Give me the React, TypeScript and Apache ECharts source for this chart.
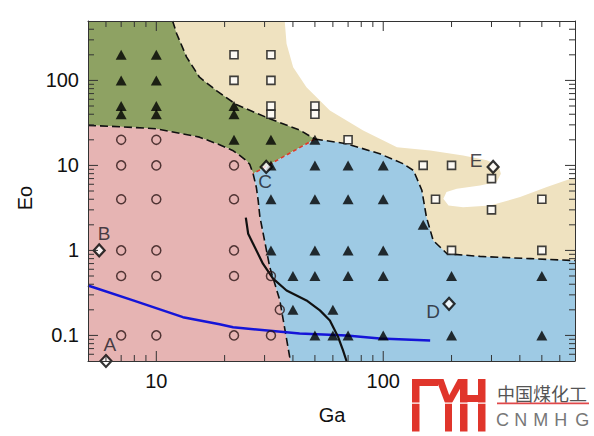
import React, { useEffect, useRef } from 'react';
import * as echarts from 'echarts';

// Axis ranges and tick values
const X_MIN = 5, X_MAX = 700, Y_MIN = 0.05, Y_MAX = 500;
const xTickLabels = [10, 100];
const yTickLabels = [0.1, 1, 10, 100];
const xMinorTicks = [6, 7, 8, 9, 20, 30, 40, 50, 60, 70, 80, 90, 200, 300, 400, 500, 600];
const yMinorTicks = [0.06, 0.07, 0.08, 0.09, 0.2, 0.3, 0.4, 0.5, 0.6, 0.7, 0.8, 0.9, 2, 3, 4, 5, 6, 7, 8, 9, 20, 30, 40, 50, 60, 70, 80, 90, 200, 300, 400];

// Markers
const triangles = [[7, 200], [7, 100], [7, 50], [7, 40], [10, 200], [10, 100], [10, 50], [10, 40], [22, 50], [22, 40], [22, 20], [32, 20], [32, 10], [32, 4], [32, 1], [40, 0.5], [40, 0.2], [50, 20], [50, 10], [50, 4], [50, 1], [50, 0.5], [50, 0.1], [60, 0.2], [60, 0.1], [70, 10], [70, 4], [70, 1], [70, 0.5], [70, 0.1], [100, 10], [100, 4], [100, 1], [100, 0.5], [100, 0.1], [150, 2], [200, 0.5], [200, 0.1], [500, 0.5], [500, 0.1]];
const circles = [[7, 20], [7, 10], [7, 4], [7, 1], [7, 0.5], [7, 0.1], [10, 20], [10, 10], [10, 4], [10, 1], [10, 0.5], [10, 0.1], [22, 10], [22, 4], [22, 1], [22, 0.5], [22, 0.1], [32, 0.5], [32, 0.1], [35, 0.2]];
const squares = [[22, 200], [22, 100], [32, 200], [32, 100], [32, 50], [32, 40], [50, 50], [50, 40], [70, 20], [150, 10], [170, 4], [200, 10], [200, 1], [300, 7], [300, 3], [500, 4], [500, 1]];
const diamondNames = ['A', 'B', 'C', 'D', 'E'];
const diamondValues = [[6, 0.05], [5.6, 1], [30.5, 9.6], [195, 0.235], [305, 9.6]];

// Curves
const blueLine = [[5, 0.387], [7.9, 0.258], [13.1, 0.164], [19, 0.135], [21.8, 0.125], [42.8, 0.105], [68.9, 0.1], [96.6, 0.092], [161, 0.087]];
const blackCurve = [[24.8, 2.43], [25.4, 1.57], [26.7, 1.2], [29.5, 0.698], [32.7, 0.465], [37.5, 0.338], [45.9, 0.258], [52.6, 0.197], [58.2, 0.15], [63.3, 0.0955], [66.5, 0.0667], [68.9, 0.05]];

// Region boundaries
const pinkBoundary = [[5, 29.6], [6.9, 28.5], [10, 27], [15.5, 21.5], [19, 17.5], [21.7, 15], [23.3, 13.1], [24.8, 11.5], [25.8, 10.3], [26.7, 8], [27.6, 5.5], [28.1, 3.9], [28.6, 2.5], [31.6, 0.64], [35, 0.26], [38.7, 0.056], [39.1, 0.05]];
const greenUpper = [[11.8, 500], [12.3, 354], [13.6, 188], [15.5, 109], [18.4, 76], [22.5, 52], [31.6, 35.4], [42.9, 26], [50, 20.4]];
const blueUpper = [[50, 20.4], [68.9, 18], [96.6, 13.7], [122, 10.5], [136, 8.7], [148, 5.1], [155, 2.47], [166, 1.31], [191, 0.914], [267, 0.85], [444, 0.8], [700, 0.76]];
const redBoundary = [[50, 20.4], [26.7, 8]];
const whiteEdge = [[36.8, 500], [37.5, 270], [40.1, 143], [45.9, 83], [58.2, 44.4], [81.6, 25.8], [115, 16.4], [161, 15], [225, 13.1], [286, 11.5], [322, 10], [330, 8], [316, 6.4], [267, 5.8], [211, 5.3], [190, 4.86], [184, 4.06], [194, 3.38], [225, 3.23], [296, 3.38], [401, 4.24], [526, 5.56], [700, 7.28]];

const FONT = 'Liberation Sans, Arial, Helvetica, sans-serif';

const pinkIdx = pinkBoundary.findIndex((p) => p[0] === 26.7 && p[1] === 8);

const pinkPoly = [[X_MIN, Y_MIN], ...pinkBoundary];
const greenPoly = [[X_MIN, Y_MAX], ...greenUpper, [26.7, 8], ...pinkBoundary.slice(0, pinkIdx).reverse()];
const bluePoly = [...pinkBoundary.slice(pinkIdx), [X_MAX, Y_MIN], ...blueUpper.slice().reverse()];
const beigePoly = [...whiteEdge, ...blueUpper.slice().reverse(), ...greenUpper.slice(0, -1).reverse()];

function polygonSeries(points: number[][], color: string) {
  return {
    type: 'custom',
    coordinateSystem: 'cartesian2d',
    silent: true,
    z: 1,
    data: [points[0]],
    renderItem: (_p: any, api: any) => ({
      type: 'polygon',
      shape: { points: points.map((p) => api.coord(p)) },
      style: { fill: color },
    }),
  };
}

function lineSeries(points: number[][], color: string, width: number, dash: any) {
  return {
    type: 'line',
    data: points,
    symbol: 'none',
    silent: true,
    z: 3,
    lineStyle: { color, width, type: dash },
  };
}

function findLabel(v: number, list: number[]) {
  const t = list.find((l) => Math.abs(v - l) / l < 1e-6);
  return t === undefined ? '' : String(t);
}

export default function App() {
  const ref = useRef<HTMLDivElement>(null);
  useEffect(() => {
    if (!ref.current) return;
    const chart = echarts.init(ref.current, undefined, { renderer: 'svg' });
    const xTicks = [...xTickLabels.map((v) => [v, Y_MIN, 1]), ...xMinorTicks.map((v) => [v, Y_MIN, 0])];
    const yTicks = [...yTickLabels.map((v) => [X_MIN, v, 1]), ...yMinorTicks.map((v) => [X_MIN, v, 0])];
    const tickStyle = { stroke: '#333', lineWidth: 1 };
    const axisCommon = {
      type: 'log',
      logBase: 10,
      axisTick: { show: false },
      splitLine: { show: false },
      axisLine: { show: true, onZero: false, lineStyle: { color: '#333', width: 1 } },
      z: 6,
    };
    // label anchor relative to the diamond's bounding box (11 x 12)
    const labelOffsets: any = { A: [5, -15], B: [6, -16], C: [0, 16], D: [-15, 9], E: [-16, -5] };
    const option: any = {
      animation: false,
      backgroundColor: '#fff',
      grid: { left: 88, top: 21, right: 19, bottom: 75 },
      xAxis: [
        {
          ...axisCommon, min: X_MIN, max: X_MAX, position: 'bottom',
          axisLabel: { formatter: (v: number) => findLabel(v, xTickLabels), fontSize: 20, color: '#111', margin: 10, fontFamily: FONT },
        },
        { ...axisCommon, min: X_MIN, max: X_MAX, position: 'top', axisLabel: { show: false } },
      ],
      yAxis: [
        {
          ...axisCommon, min: Y_MIN, max: Y_MAX, position: 'left',
          axisLabel: { formatter: (v: number) => findLabel(v, yTickLabels), fontSize: 20, color: '#111', margin: 9, fontFamily: FONT },
        },
        { ...axisCommon, min: Y_MIN, max: Y_MAX, position: 'right', axisLabel: { show: false } },
      ],
      series: [
        polygonSeries(beigePoly, '#efe2c0'),
        polygonSeries(greenPoly, '#8ea263'),
        polygonSeries(pinkPoly, '#e6b4b3'),
        polygonSeries(bluePoly, '#9ecae4'),
        lineSeries(pinkBoundary, '#111', 1.6, [8, 4]),
        lineSeries(greenUpper, '#111', 1.6, [8, 4]),
        lineSeries(blueUpper, '#111', 1.6, [8, 4]),
        lineSeries(redBoundary, '#e03a2a', 1.6, [4, 3]),
        lineSeries(blueLine, '#1515d8', 2.5, 'solid'),
        lineSeries(blackCurve, '#111', 2.2, 'solid'),
        {
          type: 'scatter', data: triangles, symbol: 'triangle', symbolSize: [11, 10], z: 4, silent: true,
          itemStyle: { color: '#000' },
        },
        {
          type: 'scatter', data: circles, symbol: 'circle', symbolSize: 9, z: 4, silent: true,
          itemStyle: { color: 'rgba(0,0,0,0)', borderColor: '#2a1414', borderWidth: 1.5 },
        },
        {
          type: 'scatter', data: squares, symbol: 'rect', symbolSize: 8, z: 4, silent: true,
          itemStyle: { color: '#fff', borderColor: '#111', borderWidth: 1.6 },
        },
        {
          type: 'scatter', symbol: 'diamond', symbolSize: [11, 12], z: 5, silent: true, clip: false,
          itemStyle: { color: '#fff', borderColor: '#000', borderWidth: 2.2 },
          data: diamondNames.map((n, i) => ({
            name: n,
            value: diamondValues[i],
            label: {
              show: true, formatter: '{b}', fontSize: 19, color: '#1a1a26', fontFamily: FONT,
              position: [5.5 + labelOffsets[n][0], 6 + labelOffsets[n][1]],
              align: 'center', verticalAlign: 'middle',
            },
          })),
        },
        {
          type: 'custom', coordinateSystem: 'cartesian2d', silent: true, z: 7, data: xTicks,
          renderItem: (_p: any, api: any) => {
            const v = api.value(0);
            const len = api.value(2) ? 10 : 6;
            const b = api.coord([v, Y_MIN]);
            const t = api.coord([v, Y_MAX]);
            return {
              type: 'group', children: [
                { type: 'line', shape: { x1: b[0], y1: b[1], x2: b[0], y2: b[1] - len }, style: tickStyle },
                { type: 'line', shape: { x1: t[0], y1: t[1], x2: t[0], y2: t[1] + len }, style: tickStyle },
              ],
            };
          },
        },
        {
          type: 'custom', coordinateSystem: 'cartesian2d', silent: true, z: 7, data: yTicks,
          renderItem: (_p: any, api: any) => {
            const v = api.value(1);
            const len = api.value(2) ? 10 : 6;
            const l = api.coord([X_MIN, v]);
            const r = api.coord([X_MAX, v]);
            return {
              type: 'group', children: [
                { type: 'line', shape: { x1: l[0], y1: l[1], x2: l[0] + len, y2: l[1] }, style: tickStyle },
                { type: 'line', shape: { x1: r[0], y1: r[1], x2: r[0] - len, y2: r[1] }, style: tickStyle },
              ],
            };
          },
        },
      ],
      graphic: [
        { type: 'text', x: 332, y: 415, style: { text: 'Ga', fontSize: 20, fontFamily: FONT, fill: '#111', align: 'center', verticalAlign: 'middle' } },
        { type: 'text', x: 25, y: 198, rotation: Math.PI / 2, style: { text: 'Eo', fontSize: 20, fontFamily: FONT, fill: '#111', align: 'center', verticalAlign: 'middle' } },
        // logo
        { type: 'rect', shape: { x: 412, y: 379, width: 7.5, height: 52.5 }, style: { fill: '#e0352b' } },
        { type: 'rect', shape: { x: 412, y: 379, width: 26, height: 7 }, style: { fill: '#e0352b' } },
        { type: 'polygon', shape: { points: [[436, 379], [443.5, 379], [452, 403], [445, 403]] }, style: { fill: '#e0352b' } },
        { type: 'polygon', shape: { points: [[458, 379], [465.5, 379], [452, 403], [445, 403]] }, style: { fill: '#e0352b' } },
        { type: 'rect', shape: { x: 445, y: 400, width: 7, height: 31.5 }, style: { fill: '#e0352b' } },
        { type: 'rect', shape: { x: 460, y: 379, width: 7.5, height: 52.5 }, style: { fill: '#e0352b' } },
        { type: 'rect', shape: { x: 478, y: 379, width: 7.5, height: 52.5 }, style: { fill: '#e0352b' } },
        { type: 'rect', shape: { x: 460, y: 395, width: 25, height: 7 }, style: { fill: '#e0352b' } },
        { type: 'rect', shape: { x: 410, y: 402.6, width: 80, height: 1.2 }, style: { fill: '#fff' } },
        { type: 'text', x: 497, y: 393, style: { text: '中国煤化工', fontSize: 18, fontFamily: 'Noto Sans CJK SC', fill: '#555', align: 'left', verticalAlign: 'middle' } },
        { type: 'rect', shape: { x: 497, y: 402.6, width: 92, height: 1.6 }, style: { fill: '#e0484a' } },
        ...['C', 'N', 'M', 'H', 'G'].map((c, i) => ({
          type: 'text', x: [502.5, 520.7, 540.7, 560.7, 582.3][i], y: 420,
          style: { text: c, fontSize: 18, fontFamily: FONT, fill: '#777', align: 'center', verticalAlign: 'middle' },
        })),
      ],
    };
    chart.setOption(option);
    return () => chart.dispose();
  }, []);
  return <div ref={ref} style={{ position: 'fixed', left: 0, top: 0, width: 594, height: 436, background: '#fff' }} />;
}
